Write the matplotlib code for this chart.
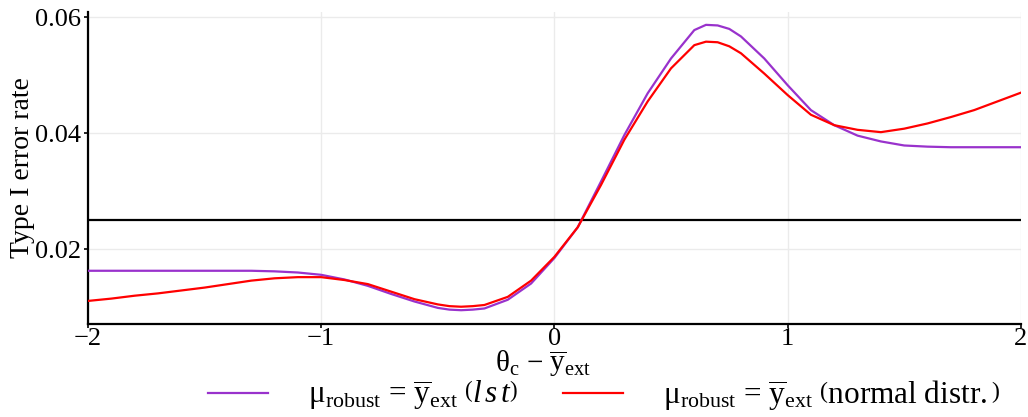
import matplotlib
matplotlib.use("Agg")
import matplotlib.pyplot as plt
from matplotlib.mathtext import MathTextParser

# data
x_vals = [-2.0, -1.9, -1.8, -1.7, -1.6, -1.5, -1.4, -1.3, -1.2, -1.1, -1.0,
          -0.9, -0.8, -0.7, -0.6, -0.5, -0.45, -0.4, -0.35, -0.3, -0.2, -0.1,
          0.0, 0.1, 0.2, 0.3, 0.4, 0.5, 0.6, 0.65, 0.7, 0.75, 0.8, 0.9, 1.0,
          1.1, 1.2, 1.3, 1.4, 1.5, 1.6, 1.7, 1.8, 1.9, 2.0]
lst_vals = [0.0163, 0.0163, 0.0163, 0.0163, 0.0163, 0.0163, 0.0163, 0.0163, 0.0162, 0.0160, 0.0156,
            0.0148, 0.0137, 0.0123, 0.0110, 0.0099, 0.0096, 0.0095, 0.0096, 0.0098, 0.0113, 0.0141,
            0.0185, 0.0238, 0.0317, 0.0397, 0.0469, 0.0529, 0.0578, 0.0587, 0.0586, 0.0580, 0.0567, 0.0529, 0.0483,
            0.0440, 0.0414, 0.0396, 0.0386, 0.0379, 0.0377, 0.0376, 0.0376, 0.0376, 0.0376]
normal_vals = [0.0111, 0.0115, 0.0120, 0.0124, 0.0129, 0.0134, 0.0140, 0.0146, 0.0150, 0.0152, 0.0152,
               0.0147, 0.0140, 0.0127, 0.0114, 0.0105, 0.0102, 0.0101, 0.0102, 0.0104, 0.0118, 0.0146,
               0.0187, 0.0238, 0.0311, 0.0389, 0.0455, 0.0512, 0.0552, 0.0558, 0.0557, 0.0550, 0.0538, 0.0503, 0.0466,
               0.0432, 0.0414, 0.0406, 0.0402, 0.0408, 0.0417, 0.0428, 0.0440, 0.0455, 0.0470]
alpha_level = 0.025
x_ticks = [-2, -1, 0, 1, 2]
x_tick_labels = ['−2', '−1', '0', '1', '2']
y_ticks = [0.02, 0.04, 0.06]
y_tick_labels = ['0.02', '0.04', '0.06']

plt.rcParams['font.family'] = ['Liberation Serif', 'DejaVu Serif']
plt.rcParams['mathtext.fontset'] = 'custom'
plt.rcParams['mathtext.rm'] = 'Liberation Serif'
plt.rcParams['mathtext.it'] = 'Liberation Serif:italic'
plt.rcParams['mathtext.bf'] = 'Liberation Serif:bold'

base = r'μ$_\mathrm{robust}$ = $\overline{\mathrm{y}}_\mathrm{ext}$ '


def paren_label(inner):
    candidates = [
        r'$\left(' + inner + r'\right)$',
    ]
    parser = MathTextParser('agg')
    for c in candidates:
        try:
            parser.parse(c, dpi=100)
            return base + c
        except Exception:
            continue
    return base + '(' + inner + ')'


lab_lst = paren_label(r'\mathit{l\,s\,t}')
lab_norm = paren_label(r'\mathrm{normal\ distr.}')

fig = plt.figure(figsize=(10.28, 4.17), dpi=100)
ax = fig.add_axes([0.0856, 0.223, 0.9074, 0.748])

ax.grid(True, color='#ebebeb', linewidth=1.0, zorder=0)
ax.axhline(alpha_level, color='black', linewidth=1.6, zorder=2)
ax.plot(x_vals, lst_vals, color='#9932CC', linewidth=1.6, zorder=3, label=lab_lst)
ax.plot(x_vals, normal_vals, color='#ff0000', linewidth=1.6, zorder=3, label=lab_norm)

ax.set_xlim(-2, 2)
ax.set_ylim(0.00712, 0.0609)
ax.set_xticks(x_ticks)
ax.set_xticklabels(x_tick_labels)
ax.set_yticks(y_ticks)
ax.set_yticklabels(y_tick_labels)
ax.tick_params(axis='both', labelsize=19, length=3, width=1.2, color='black')
ax.tick_params(axis='x', pad=0)
ax.tick_params(axis='y', pad=2)

for s in ['top', 'right']:
    ax.spines[s].set_visible(False)
for s in ['left', 'bottom']:
    ax.spines[s].set_linewidth(1.6)
    ax.spines[s].set_color('black')

ax.set_ylabel('Type I error rate', fontsize=20, labelpad=0)
ax.set_xlabel(r'θ$_\mathrm{c}$ − $\overline{\mathrm{y}}_\mathrm{ext}$', fontsize=21)
ax.xaxis.set_label_coords(0.488, -0.08)

fig.legend(loc='center', bbox_to_anchor=(0.588, 0.05), ncol=2, frameon=False,
           fontsize=22.5, handlelength=1.92, columnspacing=1.44, handletextpad=1.28)

fig.savefig('out.png', dpi=100)
